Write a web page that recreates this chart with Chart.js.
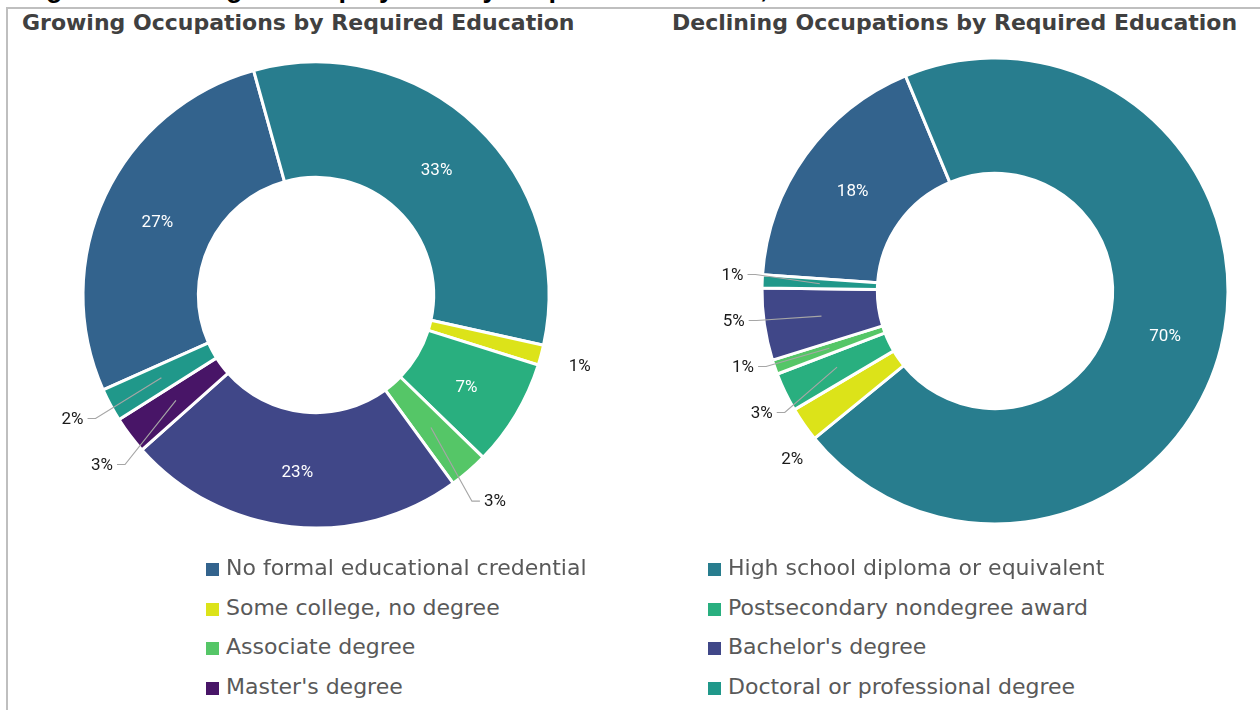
<!DOCTYPE html>
<html lang="en">
<head>
    <meta charset="UTF-8">
    <title>Employment by Required Education</title>
    <script src="https://cdn.jsdelivr.net/npm/chart.js"></script>
    <style>
        html, body { margin: 0; padding: 0; background: #fff; overflow: hidden; }
        body { width: 1260px; height: 710px; position: relative; font-family: "DejaVu Sans", sans-serif; }
        .caption { position: absolute; left: 22px; top: -27px; font: bold 27px "Liberation Sans", sans-serif; color: #000; line-height: 30px; white-space: nowrap; }
        .frame { position: absolute; left: 6px; top: 7px; width: 1300px; height: 800px; border-left: 2px solid #bfbfbf; border-top: 2px solid #bfbfbf; background: #fff; }
        .title { position: absolute; top: 10px; font-size: 22px; font-weight: bold; color: #404040; white-space: nowrap; }
        .box { position: absolute; }
        .legend { position: absolute; top: 548px; font-size: 22px; color: #595959; }
        .legend .item { position: absolute; height: 40px; line-height: 40px; white-space: nowrap; }
        .legend .sw { display: inline-block; width: 13px; height: 13px; margin-right: 7px; vertical-align: -1px; }
    </style>
</head>
<body>
    <div class="caption">Figure 10: Change in Employment by Required Education, 2018–2028</div>
    <div class="frame"></div>

    <div class="title" style="left: 22px;">Growing Occupations by Required Education</div>
    <div class="title" style="left: 672px;">Declining Occupations by Required Education</div>

    <!-- 두 개의 도넛 차트 -->
    <div class="box" style="left: 20px; top: 40px; width: 592px; height: 510px;"><canvas id="growing"></canvas></div>
    <div class="box" style="left: 690px; top: 36px; width: 610px; height: 510px;"><canvas id="declining"></canvas></div>

    <!-- 범례 -->
    <div class="legend" id="legend"></div>

<script>
// ---------------- data ----------------
const categories = [
    'No formal educational credential',
    'High school diploma or equivalent',
    'Some college, no degree',
    'Postsecondary nondegree award',
    'Associate degree',
    "Bachelor's degree",
    "Master's degree",
    'Doctoral or professional degree'
];
const growingShares   = [27.3, 32.7, 1.4, 7.4, 2.7, 23.4, 2.6, 2.3];
const decliningShares = [17.6, 70.3, 2.4, 2.7, 1.0, 5.0, 0, 0.9];
const sliceColors = ['#33638d', '#287d8e', '#dce319', '#29af7f', '#55c667', '#404788', '#481567', '#20988a'];

// ---------------- labels plugin ----------------
// percent labels: inside the ring for big slices, outside with leader lines for small ones
const sliceLabels = {
    id: 'sliceLabels',
    afterDatasetsDraw(chart, args, opts) {
        const ctx = chart.ctx;
        const meta = chart.getDatasetMeta(0);
        const values = chart.data.datasets[0].data;
        const total = values.reduce((s, v) => s + v, 0);
        const outside = [];

        ctx.save();
        ctx.font = opts.font;
        ctx.textAlign = 'center';
        ctx.textBaseline = 'middle';

        meta.data.forEach((arc, i) => {
            const v = values[i];
            if (!v) return;
            const p = arc.getProps(['x', 'y', 'startAngle', 'endAngle', 'innerRadius', 'outerRadius'], true);
            const mid = (p.startAngle + p.endAngle) / 2;
            const text = Math.round(v / total * 100) + '%';
            const rMid = (p.innerRadius + p.outerRadius) / 2;
            const ax = p.x + Math.cos(mid) * rMid;
            const ay = p.y + Math.sin(mid) * rMid;
            if (v / total >= opts.insideMin) {
                ctx.fillStyle = opts.insideColor;
                ctx.fillText(text, ax, ay + 3);
            } else {
                const r = p.outerRadius + opts.offset;
                outside.push({ i, text, ax, ay, cx: p.x, cy: p.y, r, right: Math.cos(mid) >= 0, y: p.y + Math.sin(mid) * r });
            }
        });

        // push apart labels that sit too close on the same side
        [true, false].forEach(side => {
            const group = outside.filter(o => o.right === side).sort((a, b) => a.y - b.y);
            for (let k = 0; k < 60; k++) {
                for (let j = 1; j < group.length; j++) {
                    const d = group[j].y - group[j - 1].y;
                    if (d < opts.gap) {
                        const push = (opts.gap - d) / 2;
                        group[j].y += push;
                        group[j - 1].y -= push;
                    }
                }
            }
        });

        outside.forEach(o => {
            const dy = o.y - o.cy;
            const dx = Math.sqrt(Math.max(o.r * o.r - dy * dy, 0));
            const x = o.cx + (o.right ? dx : -dx);
            const w = ctx.measureText(o.text).width;
            if (!opts.noLeader.includes(o.i)) {
                const ex = o.right ? x - w / 2 - 4 : x + w / 2 + 4;
                const kx = o.right ? ex - 8 : ex + 8;
                ctx.strokeStyle = opts.leaderColor;
                ctx.lineWidth = 1.2;
                ctx.beginPath();
                ctx.moveTo(o.ax, o.ay);
                ctx.lineTo(kx, o.y);
                ctx.lineTo(ex, o.y);
                ctx.stroke();
            }
            ctx.fillStyle = opts.outsideColor;
            ctx.fillText(o.text, x, o.y + 1);
        });
        ctx.restore();
    }
};

function makeDonut(id, shares, rotation, labelOffset) {
    return new Chart(document.getElementById(id), {
        type: 'doughnut',
        data: {
            labels: categories,
            datasets: [{
                data: shares,
                backgroundColor: sliceColors,
                borderColor: '#ffffff',
                borderWidth: 3
            }]
        },
        options: {
            responsive: true,
            maintainAspectRatio: false,
            animation: false,
            rotation: rotation,
            radius: 233,
            cutout: '50.5%',
            layout: { padding: 0 },
            plugins: {
                legend: { display: false },
                tooltip: { enabled: false },
                sliceLabels: {
                    font: '17px Roboto',
                    insideMin: 0.06,
                    insideColor: '#ffffff',
                    outsideColor: '#1a1a1a',
                    leaderColor: '#a6a6a6',
                    offset: labelOffset,
                    gap: 46,
                    noLeader: [2]
                }
            }
        },
        plugins: [sliceLabels]
    });
}

makeDonut('growing', growingShares, 246, 40);
makeDonut('declining', decliningShares, 274, 30);

// ---------------- legend (two columns) ----------------
const legendEl = document.getElementById('legend');
const colX = [206, 708];
categories.forEach((name, i) => {
    const item = document.createElement('div');
    item.className = 'item';
    item.style.left = colX[i % 2] + 'px';
    item.style.top = (Math.floor(i / 2) * 39.7) + 'px';
    item.innerHTML = '<span class="sw" style="background:' + sliceColors[i] + '"></span>' + name;
    legendEl.appendChild(item);
});
</script>
</body>
</html>
